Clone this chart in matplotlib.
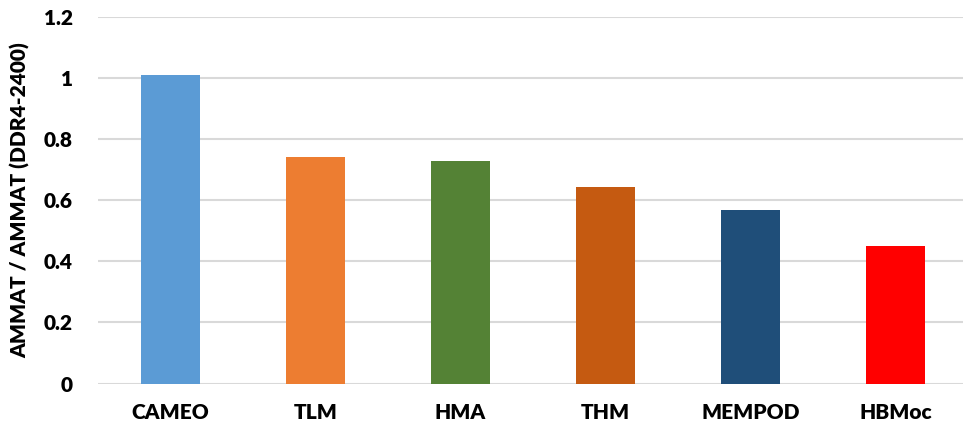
import matplotlib.pyplot as plt

# --- Data ---
categories = ['CAMEO', 'TLM', 'HMA', 'THM', 'MEMPOD', 'HBMoc']
ammat_ratio = [1.01, 0.741, 0.728, 0.643, 0.567, 0.450]
bar_colors = ['#5B9BD5', '#ED7D31', '#548235', '#C55A11', '#1F4E79', '#FF0000']
y_ticks = [0, 0.2, 0.4, 0.6, 0.8, 1.0, 1.2]
y_tick_labels = ['0', '0.2', '0.4', '0.6', '0.8', '1', '1.2']

plt.rcParams['font.family'] = ['Lato', 'DejaVu Sans']

fig = plt.figure(figsize=(9.63, 4.28), dpi=100)
ax = fig.add_axes([98 / 963, (428 - 383.5) / 428, 865 / 963, (383.5 - 17) / 428])

x = range(len(categories))
ax.bar(x, ammat_ratio, width=0.41, color=bar_colors, zorder=3)

ax.set_xlim(-0.5, -0.5 + 865 / 145)
ax.set_ylim(0, 1.2)
ax.set_yticks(y_ticks)
ax.set_yticklabels(y_tick_labels, fontsize=15, fontweight='heavy')
ax.set_xticks(list(x))
ax.set_xticklabels(categories, fontsize=15, fontweight='heavy')
ax.tick_params(axis='both', length=0)
ax.tick_params(axis='x', pad=14)
ax.tick_params(axis='y', pad=18)

ax.set_ylabel('AMMAT / AMMAT (DDR4-2400)', fontsize=15, fontweight='heavy', labelpad=10)

# Grid and spines
ax.grid(axis='y', color='#D9D9D9', linewidth=1.5, zorder=0)
for side in ['top', 'right', 'left', 'bottom']:
    ax.spines[side].set_visible(False)

plt.savefig('out.png', dpi=100)
